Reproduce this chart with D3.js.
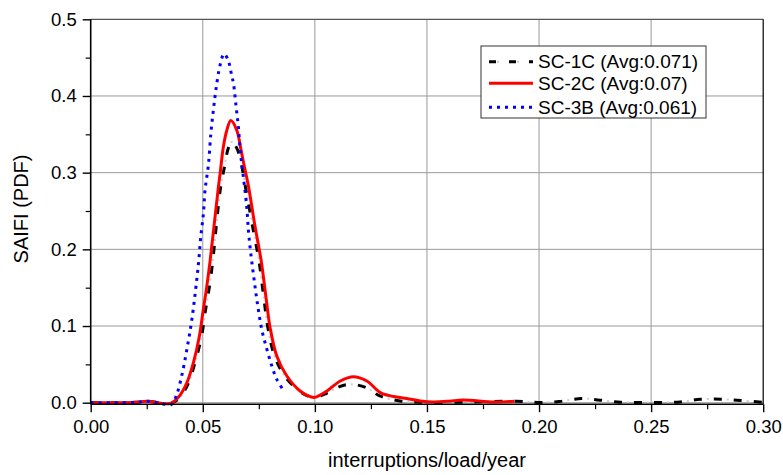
<!DOCTYPE html>
<html><head><meta charset="utf-8">
<script src="https://cdn.jsdelivr.net/npm/d3@7"></script>
<style>body{margin:0;background:#fff}svg{display:block}text{font-family:Arial,"Liberation Sans",sans-serif}</style>
</head><body>
<svg id="c" width="783" height="475"></svg>
<script>
// ---- data ----
const xTicks = [0, 0.05, 0.10, 0.15, 0.20, 0.25, 0.30];
const xTickLabels = ["0.00", "0.05", "0.10", "0.15", "0.20", "0.25", "0.30"];
const yTicks = [0, 0.1, 0.2, 0.3, 0.4, 0.5];
const yTickLabels = ["0.0", "0.1", "0.2", "0.3", "0.4", "0.5"];
const seriesNames = ["SC-1C (Avg:0.071)", "SC-2C (Avg:0.07)", "SC-3B (Avg:0.061)"];

const sc1cX = [0,0.01,0.02,0.025,0.03,0.033,0.036,0.0395,0.0435,0.0465,0.0495,0.051,0.053,0.0545,0.056,0.058,0.0595,0.0614,0.063,0.065,0.0667,0.069,0.0722,0.075,0.0773,0.079,0.082,0.0865,0.093,0.0975,0.1,0.105,0.111,0.1158,0.123,0.129,0.138,0.15,0.17,0.19,0.2006,0.209,0.219,0.2273,0.2363,0.245,0.254,0.263,0.272,0.281,0.29,0.3];
const sc1cY = [0,0,0.0005,0.002,0,-0.0015,-0.0005,0.006,0.025,0.052,0.087,0.117,0.152,0.186,0.23,0.282,0.305,0.332,0.34,0.333,0.318,0.282,0.23,0.186,0.135,0.0985,0.061,0.035,0.0153,0.008,0.007,0.012,0.021,0.024,0.0197,0.0088,0.0023,0.0005,0.0008,0.002,0.0003,0.0016,0.0055,0.0033,0.0007,0.0003,0.0003,0.001,0.0045,0.0045,0.003,0.0003];

const sc2cX = [0,0.01,0.02,0.025,0.03,0.033,0.036,0.039,0.0429,0.0458,0.0485,0.05,0.0518,0.0533,0.055,0.057,0.0577,0.0592,0.0607,0.0625,0.0652,0.0671,0.0684,0.0704,0.0733,0.076,0.0783,0.08,0.083,0.0875,0.0934,0.0979,0.1,0.1054,0.1113,0.1172,0.1232,0.1292,0.1351,0.141,0.147,0.153,0.16,0.166,0.18,0.189];
const sc2cY = [0,0,0.0005,0.002,0,-0.0015,-0.0005,0.0067,0.026,0.052,0.087,0.117,0.152,0.186,0.23,0.282,0.298,0.334,0.355,0.368,0.355,0.329,0.31,0.282,0.23,0.186,0.135,0.0985,0.061,0.0348,0.0153,0.008,0.007,0.0153,0.0283,0.034,0.0283,0.0132,0.008,0.0055,0.0023,0.001,0.002,0.0036,0.001,0.002];

const sc3bX = [0,0.01,0.02,0.025,0.03,0.033,0.0362,0.0384,0.0406,0.0429,0.0451,0.0473,0.0483,0.0491,0.0503,0.051,0.0525,0.0536,0.0547,0.0559,0.0577,0.0595,0.0614,0.0626,0.0637,0.0649,0.0659,0.0667,0.0674,0.0681,0.0696,0.0704,0.0714,0.0733,0.0748,0.0763,0.0786,0.0808,0.083,0.086];
const sc3bY = [0,0,0.0005,0.002,0,-0.002,-0.002,0.011,0.035,0.0695,0.108,0.16,0.1885,0.2166,0.247,0.277,0.31,0.351,0.381,0.409,0.44,0.455,0.446,0.431,0.416,0.385,0.359,0.329,0.312,0.2945,0.2556,0.223,0.195,0.1517,0.121,0.0955,0.0695,0.0478,0.0305,0.016];

// ---- layout ----
const svg = d3.select("#c");
const x = d3.scaleLinear().domain([0, 0.3]).range([90.7, 763.2]);
const y = d3.scaleLinear().domain([0, 0.5]).range([402.7, 19.3]);
const axisY = 404.2;

// grid
const g = svg.append("g");
g.selectAll("line.vg").data(xTicks.slice(1, -1)).join("line")
  .attr("x1", d => x(d)).attr("x2", d => x(d)).attr("y1", y(0.5)).attr("y2", axisY)
  .attr("stroke", "#999").attr("stroke-width", 1);
g.selectAll("line.hg").data(yTicks.slice(0, -1)).join("line")
  .attr("x1", x(0)).attr("x2", x(0.3)).attr("y1", d => y(d)).attr("y2", d => y(d))
  .attr("stroke", "#999").attr("stroke-width", 1);
svg.append("line").attr("x1", x(0)).attr("x2", x(0.3)).attr("y1", y(0.5)).attr("y2", y(0.5))
  .attr("stroke", "#555").attr("stroke-width", 1.2);
svg.append("line").attr("x1", x(0.3)).attr("x2", x(0.3)).attr("y1", y(0.5)).attr("y2", axisY)
  .attr("stroke", "#000").attr("stroke-width", 1.2);

// lines
const mk = (xs, ys) => xs.map((d, i) => [d, ys[i]]);
const line = d3.line().x(d => x(d[0])).y(d => y(d[1])).curve(d3.curveCatmullRom.alpha(0.5));
const plot = svg.append("g");
const d1 = mk(sc1cX, sc1cY), d2 = mk(sc2cX, sc2cY), d3b = mk(sc3bX, sc3bY);
plot.append("path").attr("d", line(d1)).attr("fill", "none").attr("stroke", "#ccc")
  .attr("stroke-width", 2).attr("stroke-dasharray", "2,18").attr("stroke-dashoffset", 7);
plot.append("path").attr("d", line(d1)).attr("fill", "none").attr("stroke", "#000")
  .attr("stroke-width", 3).attr("stroke-dasharray", "8,12");
plot.append("path").attr("d", line(d2)).attr("fill", "none").attr("stroke", "#f00")
  .attr("stroke-width", 3);
plot.append("path").attr("d", line(d3b)).attr("fill", "none").attr("stroke", "#00f")
  .attr("stroke-width", 3).attr("stroke-dasharray", "3,5");

// axes
const xa = d3.axisBottom(x).tickValues(xTicks).tickFormat((d, i) => xTickLabels[i]).tickSize(8).tickPadding(8);
const xg = svg.append("g").attr("transform", `translate(0,${axisY})`).call(xa);
xg.select(".domain").attr("stroke-width", 1.6).attr("d", `M${x(0)},0H${x(0.3)}`);
xg.selectAll(".tick line").attr("stroke-width", 1.4);
xg.selectAll("text").attr("font-size", 18.5).attr("fill", "#000");
const xm = d3.axisBottom(x).tickValues(xTicks.slice(0, -1).map(d => d + 0.025)).tickFormat("").tickSize(5);
const xmg = svg.append("g").attr("transform", `translate(0,${axisY})`).call(xm);
xmg.select(".domain").remove();
xmg.selectAll(".tick line").attr("stroke-width", 1.2);

const ya = d3.axisLeft(y).tickValues(yTicks).tickFormat((d, i) => yTickLabels[i]).tickSize(8).tickPadding(6);
const yg = svg.append("g").attr("transform", `translate(${x(0)},0)`).call(ya);
yg.select(".domain").attr("stroke-width", 1.6).attr("d", `M0,${y(0.5)}V${axisY}`);
yg.selectAll(".tick line").attr("stroke-width", 1.4);
yg.selectAll("text").attr("font-size", 18.5).attr("fill", "#000");
const ym = d3.axisLeft(y).tickValues(yTicks.slice(0, -1).map(d => d + 0.05)).tickFormat("").tickSize(5);
const ymg = svg.append("g").attr("transform", `translate(${x(0)},0)`).call(ym);
ymg.select(".domain").remove();
ymg.selectAll(".tick line").attr("stroke-width", 1.2);

// titles
svg.append("text").attr("x", 427).attr("y", 467).attr("text-anchor", "middle")
  .attr("font-size", 20).text("interruptions/load/year");
svg.append("text").attr("transform", "translate(28,209) rotate(-90)").attr("text-anchor", "middle")
  .attr("font-size", 20).text("SAIFI (PDF)");

// legend
const lg = svg.append("g");
lg.append("rect").attr("x", 481).attr("y", 46).attr("width", 225).attr("height", 72)
  .attr("fill", "#fff").attr("stroke", "#333").attr("stroke-width", 1);
const rowsY = [61.7, 83.3, 107.3];
const baseY = [67.7, 90, 114];
const styles = [
  {c: "#000", w: 3, da: "7,13"},
  {c: "#f00", w: 3, da: null},
  {c: "#00f", w: 3, da: "3,5"}
];
seriesNames.forEach((n, i) => {
  if (i === 0) {
    lg.append("line").attr("x1", 487).attr("x2", 532).attr("y1", rowsY[i]).attr("y2", rowsY[i])
      .attr("stroke", "#ccc").attr("stroke-width", 2).attr("stroke-dasharray", "2,18").attr("stroke-dashoffset", 10);
  }
  const l = lg.append("line").attr("x1", 489).attr("x2", 533).attr("y1", rowsY[i]).attr("y2", rowsY[i])
    .attr("stroke", styles[i].c).attr("stroke-width", styles[i].w);
  if (styles[i].da) l.attr("stroke-dasharray", styles[i].da);
  lg.append("text").attr("x", 538).attr("y", baseY[i]).attr("font-size", 19).text(n);
});
</script>
</body></html>
